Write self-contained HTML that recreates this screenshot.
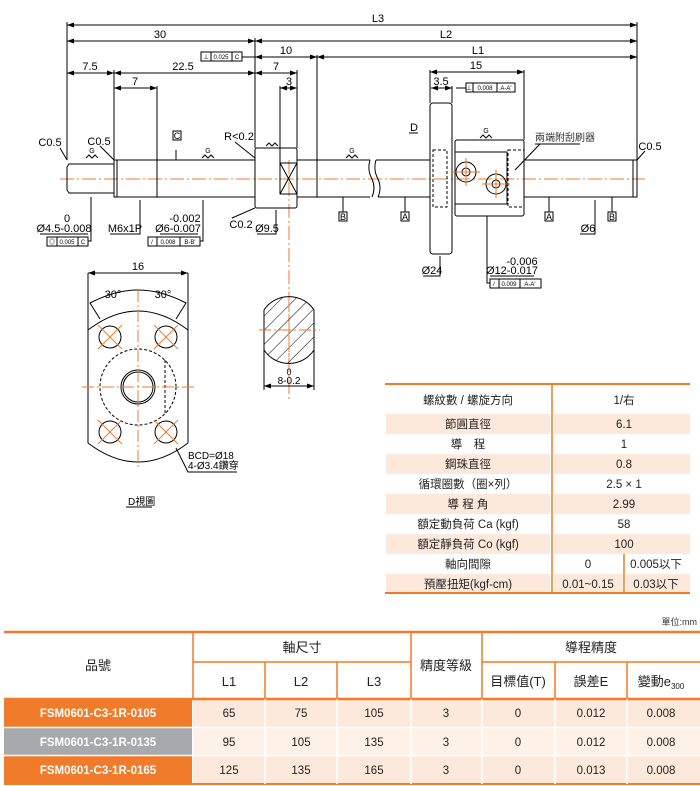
<!DOCTYPE html>
<html><head><meta charset="utf-8"><style>
html,body{margin:0;padding:0;background:#fff;}
svg{display:block;font-family:"Liberation Sans","Noto Sans CJK TC",sans-serif;}
</style></head><body>
<svg width="700" height="786" viewBox="0 0 700 786" xmlns="http://www.w3.org/2000/svg">
<defs>
<marker id="a" markerWidth="7" markerHeight="5" refX="7" refY="2.5" orient="auto-start-reverse"><path d="M0,0 L7,2.5 L0,5z" fill="#000"/></marker>
<pattern id="h" width="10" height="10" patternUnits="userSpaceOnUse" patternTransform="rotate(45)"><line x1="0" y1="0" x2="0" y2="10" stroke="#000" stroke-width="1"/></pattern>
</defs>
<g stroke="#000" stroke-width="1" fill="none">
<line x1="60" y1="179" x2="645" y2="179" stroke="#f07b2a" stroke-dasharray="14,3,2,3"/>
<line x1="289" y1="160" x2="289" y2="400" stroke="#f07b2a" stroke-dasharray="14,3,2,3"/>
<path d="M69,164 L114,164 L114,193 L69,193 L67,190 L67,167z"/>
<rect x="114" y="160" width="43" height="37"/>
<line x1="117" y1="160" x2="117" y2="197"/>
<path d="M157,160 L255,160 M157,197 L255,197"/>
<rect x="255" y="148" width="42" height="60" rx="2"/>
<rect x="280" y="163" width="17" height="31"/>
<path d="M280,163 L297,194 M297,163 L280,194"/>
<path d="M297,160 L370,160 M297,197 L370,197 M317,160 L317,197"/>
<path d="M370,160 Q367,170 372,179 Q376,188 372,197" />
<path d="M376,160 Q373,170 378,179 Q382,188 378,197" />
<path d="M376,160 L430,160 M378,197 L430,197"/>
<rect x="430" y="103" width="22" height="151" rx="3"/>
<rect x="433" y="150" width="14" height="57" stroke-dasharray="3,2"/>
<rect x="455" y="140" width="69" height="76" rx="2"/>
<rect x="455" y="152" width="52" height="52"/>
<rect x="508" y="150" width="16" height="57" stroke-dasharray="3,2"/>
<circle cx="466" cy="172" r="10"/><circle cx="466" cy="172" r="4"/>
<circle cx="496" cy="184" r="10"/><circle cx="496" cy="184" r="4"/>
<g stroke="#f07b2a"><path d="M452,172 H480 M466,158 V186 M482,184 H510 M496,170 V198"/></g>
<path d="M524,160 L637,160 L637,197 L524,197 M633,160 L633,197"/>
<path d="M67,22 V160 M255,38 V148 M317,55 V160 M637,22 V160 M114,70 V160 M157,86 V160 M280,86 V163 M297,70 V148 M430,70 V103 M524,70 V140 M452,86 V103"/>
<line x1="67" y1="25" x2="637" y2="25" marker-start="url(#a)" marker-end="url(#a)"/>
<line x1="67" y1="41" x2="255" y2="41" marker-start="url(#a)" marker-end="url(#a)"/>
<line x1="255" y1="41" x2="637" y2="41" marker-start="url(#a)" marker-end="url(#a)"/>
<line x1="255" y1="57" x2="317" y2="57" marker-start="url(#a)" marker-end="url(#a)"/>
<line x1="317" y1="57" x2="637" y2="57" marker-start="url(#a)" marker-end="url(#a)"/>
<line x1="67" y1="73" x2="114" y2="73" marker-start="url(#a)" marker-end="url(#a)"/>
<line x1="114" y1="73" x2="255" y2="73" marker-start="url(#a)" marker-end="url(#a)"/>
<line x1="255" y1="73" x2="297" y2="73" marker-start="url(#a)" marker-end="url(#a)"/>
<line x1="430" y1="72" x2="524" y2="72" marker-start="url(#a)" marker-end="url(#a)"/>
<line x1="114" y1="88" x2="157" y2="88" marker-start="url(#a)" marker-end="url(#a)"/>
<line x1="280" y1="88" x2="297" y2="88" marker-start="url(#a)" marker-end="url(#a)"/>
<line x1="431" y1="88" x2="452" y2="88" marker-start="url(#a)" marker-end="url(#a)"/>
<rect x="201" y="52" width="41" height="9"/><path d="M211,52V61 M232,52V61 M242,57H255"/>
<rect x="466" y="83" width="49" height="9"/><path d="M473,83V92 M497,83V92 M466,88H456"/>
<rect x="47" y="237" width="41" height="9"/><path d="M57,237V246 M78,237V246 M88,241H91V197"/>
<rect x="148" y="237" width="52" height="9"/><path d="M157,237V246 M180,237V246 M200,241H203V200"/>
<rect x="490" y="279" width="51" height="9"/><path d="M499,279V288 M520,279V288 M490,283H487V216"/>
<path d="M40,234H88 M110,234H140V200 M160,234H198 M257,234H276V210 M232,218L255,208 M423,276H440V256 M490,276H534 M580,234H595V200 M60,148L67,160 M100,146L114,160 M235,142L255,158 M645,151L637,160 M540,144L515,170 M535,144H580 M409,133H418"/>
<path d="M176,160V150 M343,197V212 M405,197V212 M549,197V212 M612,197V212"/>
<rect x="173" y="131" width="8" height="9"/><rect x="339" y="212" width="8" height="9"/>
<rect x="401" y="212" width="8" height="9"/><rect x="545" y="212" width="8" height="9"/><rect x="608" y="212" width="8" height="9"/>
<path d="M86,158l3,-3l3,3l3,-3l3,3 M202,158l3,-3l3,3l3,-3l3,3 M346,158l3,-3l3,3l3,-3l3,3 M480,138l3,-3l3,3l3,-3l3,3 M266,146l3,-3l3,3l3,-3l3,3"/>
</g>
<g font-size="7" text-anchor="middle"><text x="92" y="153">G</text><text x="208" y="153">G</text><text x="352" y="153">G</text><text x="486" y="133">G</text></g>
<g font-size="11" fill="#000" text-anchor="middle">
<text x="378" y="22">L3</text><text x="160" y="38">30</text><text x="446" y="38">L2</text>
<text x="286" y="54">10</text><text x="478" y="54">L1</text>
<text x="90" y="70">7.5</text><text x="183" y="70">22.5</text><text x="276" y="70">7</text>
<text x="476" y="69">15</text><text x="135" y="85">7</text><text x="289" y="85">3</text><text x="441" y="85">3.5</text>
<text x="50" y="146">C0.5</text><text x="99" y="145">C0.5</text><text x="239" y="140">R&lt;0.2</text>
<text x="650" y="150">C0.5</text><text x="414" y="131">D</text>
<text x="67" y="222">0</text><text x="64" y="232">Ø4.5-0.008</text><text x="125" y="232">M6x1P</text>
<text x="185" y="222">-0.002</text><text x="178" y="232">Ø6-0.007</text>
<text x="241" y="228">C0.2</text><text x="267" y="232">Ø9.5</text>
<text x="432" y="274">Ø24</text><text x="522" y="265">-0.006</text><text x="512" y="274">Ø12-0.017</text>
<text x="588" y="232">Ø6</text>
<text x="138" y="270">16</text><text x="113" y="298">30°</text><text x="163" y="298">30°</text>
<text x="289" y="375" font-size="9">0</text><text x="289" y="384" font-size="10">8-0.2</text>
</g>
<g font-size="9" text-anchor="middle">
<text x="177" y="139">C</text><text x="343" y="220">B</text><text x="405" y="220">A</text><text x="549" y="220">A</text><text x="612" y="220">B</text>
</g>
<g font-size="6" text-anchor="middle">
<text x="221" y="59">0.025</text><text x="237" y="59">C</text><text x="206" y="59">⊥</text>
<text x="485" y="90">0.008</text><text x="506" y="90">A-A'</text><text x="469" y="90">⊥</text>
<text x="67" y="244">0.005</text><text x="83" y="244">C</text><text x="52" y="244">◎</text>
<text x="168" y="244">0.008</text><text x="190" y="244">B-B'</text><text x="152" y="244">/</text>
<text x="509" y="286">0.009</text><text x="530" y="286">A-A'</text><text x="494" y="286">/</text>
</g>
<text x="535" y="141" font-size="10" fill="#333">兩端附刮刷器</text>
<g stroke="#000" fill="none">
<path d="M88,273V443 M188,273V443"/>
<line x1="88" y1="273" x2="188" y2="273" marker-start="url(#a)" marker-end="url(#a)"/>
<path d="M88,330 Q138,292 188,330 M88,443 Q138,481 188,443"/>
<path d="M100,319L90,303 Q115,290 138,290 Q161,290 186,303 L176,319"/>
<circle cx="110" cy="337" r="11"/><circle cx="166" cy="337" r="11"/>
<circle cx="110" cy="432" r="11"/><circle cx="166" cy="432" r="11"/>
<circle cx="138" cy="387" r="38" stroke-dasharray="3,2"/>
<path d="M165,360V413" stroke-dasharray="3,2"/>
<circle cx="138" cy="387" r="17"/><circle cx="138" cy="387" r="15"/>
<path d="M176,448L188,472H237"/>
<path d="M126,507H152"/>
<path d="M264,310A30,30 0 0 1 314,310 V350 A30,30 0 0 1 264,350Z" fill="url(#h)"/>
<path d="M264,350V390 M314,350V390"/>
<line x1="264" y1="386" x2="314" y2="386" marker-start="url(#a)" marker-end="url(#a)"/>
</g>
<g stroke="#f07b2a" fill="none">
<path d="M138,290V470 M82,387H196 M259,330H320 M289,300V360" stroke-dasharray="12,3,2,3"/>
<path d="M98,325L122,349 M122,325L98,349 M154,325L178,349 M178,325L154,349 M98,420L122,444 M122,420L98,444 M154,420L178,444 M178,420L154,444"/>
</g>
<g font-size="10"><text x="188" y="459">BCD=Ø18</text><text x="188" y="469">4-Ø3.4鑽穿</text><text x="128" y="505">D視圖</text></g>
<g fill="#fde9dc">
<rect x="386" y="414" width="164" height="20"/><rect x="554" y="414" width="136" height="20"/>
<rect x="386" y="454" width="164" height="20"/><rect x="554" y="454" width="136" height="20"/>
<rect x="386" y="494" width="164" height="20"/><rect x="554" y="494" width="136" height="20"/>
<rect x="386" y="534" width="164" height="20"/><rect x="554" y="534" width="136" height="20"/>
<rect x="386" y="574" width="164" height="20"/><rect x="554" y="574" width="69" height="20"/><rect x="626" y="574" width="64" height="20"/>
</g>
<g stroke="#f07b2a"><line x1="385" y1="384" x2="690" y2="384" stroke-width="2"/><line x1="385" y1="593" x2="690" y2="593" stroke-width="2"/><line x1="552" y1="384" x2="552" y2="593" stroke-width="1.5"/><line x1="624" y1="554" x2="624" y2="593" stroke-width="1.5"/></g>
<g font-size="11.5" text-anchor="middle" fill="#222">
<text x="468" y="404">螺紋數 / 螺旋方向</text><text x="624" y="404">1/右</text>
<text x="468" y="428">節圓直徑</text><text x="624" y="428">6.1</text>
<text x="468" y="448">導　程</text><text x="624" y="448">1</text>
<text x="468" y="468">鋼珠直徑</text><text x="624" y="468">0.8</text>
<text x="468" y="488">循環圈數（圈×列）</text><text x="624" y="488">2.5 × 1</text>
<text x="468" y="508">導 程 角</text><text x="624" y="508">2.99</text>
<text x="468" y="528">額定動負荷 Ca (kgf)</text><text x="624" y="528">58</text>
<text x="468" y="548">額定靜負荷 Co (kgf)</text><text x="624" y="548">100</text>
<text x="468" y="568">軸向間隙</text><text x="588" y="568">0</text><text x="656" y="568">0.005以下</text>
<text x="468" y="588">預壓扭矩(kgf-cm)</text><text x="588" y="588">0.01~0.15</text><text x="656" y="588">0.03以下</text>
</g>
<text x="697" y="625" font-size="9" text-anchor="end" fill="#333">單位:mm</text>
<rect x="4" y="699" width="188" height="28" fill="#f07b2a"/>
<rect x="4" y="728" width="188" height="27" fill="#a7a9ac"/>
<rect x="4" y="756" width="188" height="28" fill="#f07b2a"/>
<rect x="193" y="699" width="507" height="28" fill="#fde9dc"/>
<rect x="193" y="728" width="507" height="27" fill="#fef1e8"/>
<rect x="193" y="756" width="507" height="28" fill="#fde9dc"/>
<g stroke="#f07b2a">
<line x1="4" y1="632" x2="700" y2="632" stroke-width="2.5"/>
<line x1="4" y1="699" x2="700" y2="699" stroke-width="2.5"/>
<line x1="4" y1="784" x2="700" y2="784" stroke-width="2"/>
<path d="M193,632V699 M411,632V699 M482,632V699 M265,662V699 M337,662V699 M555,662V699 M627,662V699 M193,662H411 M482,662H700" stroke-width="1.5"/>
</g>
<g stroke="#fff" stroke-width="1.5"><path d="M193,727.5H700 M193,755.5H700 M265,699V784 M337,699V784 M411,699V784 M482,699V784 M555,699V784 M627,699V784 M4,727.5H192 M4,755.5H192"/></g>
<g font-size="13" text-anchor="middle" fill="#222">
<text x="98" y="670">品號</text><text x="302" y="652">軸尺寸</text><text x="446" y="670">精度等級</text><text x="591" y="652">導程精度</text>
<text x="229" y="686">L1</text><text x="301" y="686">L2</text><text x="374" y="686">L3</text>
<text x="518" y="686">目標值(T)</text><text x="591" y="686">誤差E</text><text x="661" y="686">變動e<tspan font-size="8" dy="3">300</tspan></text>
</g>
<g font-size="11.5" text-anchor="middle" font-weight="bold">
<text x="98" y="717" fill="#fff">FSM0601-C3-1R-0105</text>
<text x="98" y="746" fill="#fff">FSM0601-C3-1R-0135</text>
<text x="98" y="774" fill="#fff">FSM0601-C3-1R-0165</text>
</g>
<g font-size="11.5" text-anchor="middle" fill="#222">
<text x="229" y="717">65</text><text x="301" y="717">75</text><text x="374" y="717">105</text><text x="446" y="717">3</text><text x="518" y="717">0</text><text x="591" y="717">0.012</text><text x="661" y="717">0.008</text>
<text x="229" y="746">95</text><text x="301" y="746">105</text><text x="374" y="746">135</text><text x="446" y="746">3</text><text x="518" y="746">0</text><text x="591" y="746">0.012</text><text x="661" y="746">0.008</text>
<text x="229" y="774">125</text><text x="301" y="774">135</text><text x="374" y="774">165</text><text x="446" y="774">3</text><text x="518" y="774">0</text><text x="591" y="774">0.013</text><text x="661" y="774">0.008</text>
</g>
</svg>
</body></html>
